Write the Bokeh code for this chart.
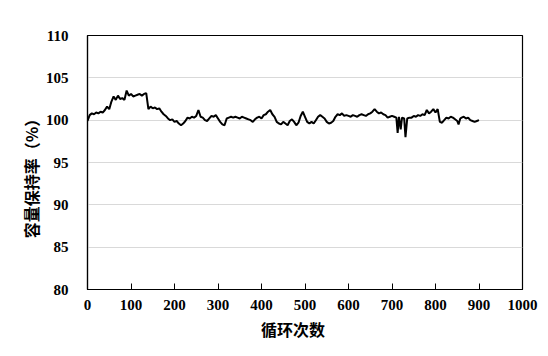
from bokeh.plotting import figure
from bokeh.models import Range1d, FixedTicker
from bokeh.embed import file_html
from bokeh.resources import INLINE

cycles = [0, 5, 10, 15, 20, 25, 30, 35, 40, 45, 50, 55, 60, 65, 70, 75, 80, 85, 90, 95,
          100, 105, 110, 115, 120, 125, 130, 135, 140, 145, 150, 155, 160, 165, 170, 175, 180, 185, 190, 195,
          200, 205, 210, 215, 220, 225, 230, 235, 240, 245, 250, 255, 260, 265, 270, 275, 280, 285, 290, 295,
          300, 305, 310, 315, 320, 325, 330, 335, 340, 345, 350, 355, 360, 365, 370, 375, 380, 385, 390, 395,
          400, 405, 410, 415, 420, 425, 430, 435, 440, 445, 450, 455, 460, 465, 470, 475, 480, 485, 490, 495,
          500, 505, 510, 515, 520, 525, 530, 535, 540, 545, 550, 555, 560, 565, 570, 575, 580, 585, 590, 595,
          600, 605, 610, 615, 620, 625, 630, 635, 640, 645, 650, 655, 660, 665, 670, 675, 680, 685, 690, 695,
          700, 705, 710, 713, 716, 720, 723, 728, 731, 735, 740, 745, 750, 755, 760, 765, 770, 775, 780, 785,
          790, 795, 800, 805, 810, 815, 820, 825, 830, 835, 840, 845, 850, 853, 857, 860, 865, 870, 875, 880,
          885, 890, 895, 900]
retention = [99.9, 100.6, 100.8, 100.7, 100.9, 100.8, 101.0, 100.9, 101.2, 101.6, 101.3, 102.2, 102.8, 102.4, 102.9, 102.5, 102.6, 102.4, 103.5, 102.9,
             103.1, 102.8, 102.9, 103.0, 103.1, 102.9, 103.1, 103.2, 101.3, 101.6, 101.4, 101.5, 101.3, 101.4, 101.0, 100.7, 100.5, 100.2, 100.0, 100.1,
             99.8, 99.9, 99.6, 99.4, 99.6, 99.9, 100.3, 100.2, 100.4, 100.3, 100.5, 101.2, 100.4, 100.3, 100.0, 99.9, 100.2, 100.5, 100.4, 100.6,
             100.2, 99.8, 99.5, 99.4, 100.2, 100.3, 100.4, 100.3, 100.4, 100.3, 100.2, 100.4, 100.3, 100.2, 100.1, 100.0, 99.8, 100.1, 100.3, 100.4,
             100.2, 100.6, 100.7, 101.0, 101.2, 100.7, 100.4, 99.8, 99.6, 99.5, 99.8, 99.6, 99.4, 99.9, 100.1, 99.8, 99.4, 99.7, 100.5, 101.0,
             100.4, 99.8, 99.6, 99.8, 99.6, 100.0, 100.4, 100.6, 100.4, 100.2, 99.8, 99.6, 99.7, 99.9, 100.4, 100.7, 100.6, 100.8, 100.5, 100.6,
             100.5, 100.4, 100.6, 100.5, 100.4, 100.6, 100.7, 100.6, 100.5, 100.7, 100.8, 101.0, 101.3, 101.0, 100.8, 100.9, 100.7, 100.6, 100.3, 100.4,
             100.5, 100.4, 100.3, 98.5, 100.4, 98.9, 100.3, 100.2, 98.0, 100.2, 100.3, 100.3, 100.5, 100.4, 100.6, 100.5, 100.7, 100.6, 101.2, 100.8,
             101.0, 101.3, 100.9, 101.3, 99.8, 99.7, 100.0, 100.3, 100.2, 100.4, 100.3, 100.1, 99.9, 99.5, 100.2, 100.3, 100.4, 100.2, 100.3, 100.0,
             99.9, 99.8, 99.9, 100.0]

x_ticks = [0, 100, 200, 300, 400, 500, 600, 700, 800, 900, 1000]
y_ticks = [80, 85, 90, 95, 100, 105, 110]
x_title = "循环次数"
y_title = "容量保持率（%）"

p = figure(width=548, height=356, output_backend="svg", toolbar_location=None,
           x_range=Range1d(0, 1000), y_range=Range1d(80, 110),
           min_border_left=87, min_border_right=26, min_border_top=35, min_border_bottom=67)
p.background_fill_color = "white"
p.border_fill_color = "white"
p.outline_line_color = "black"
p.outline_line_width = 1.2

p.line(cycles, retention, line_color="black", line_width=2)

p.xaxis.ticker = FixedTicker(ticks=x_ticks)
p.yaxis.ticker = FixedTicker(ticks=y_ticks)
p.xgrid.visible = False
p.ygrid.grid_line_color = "#d9d9d9"
p.ygrid.grid_line_width = 1

for ax in (p.xaxis, p.yaxis):
    ax.axis_line_color = "black"
    ax.axis_line_width = 1.2
    ax.major_label_text_font = "Liberation Serif"
    ax.major_label_text_font_style = "bold"
    ax.major_label_text_font_size = "15px"
    ax.major_label_text_color = "black"
    ax.axis_label_text_font = "Noto Sans CJK SC"
    ax.axis_label_text_font_style = "bold"
    ax.axis_label_text_font_size = "16px"
    ax.axis_label_text_color = "black"
    ax.minor_tick_line_color = None

p.xaxis.major_tick_in = 6
p.xaxis.major_tick_out = 0
p.xaxis.major_tick_line_color = "black"
p.xaxis.major_label_standoff = 10
p.xaxis.axis_label = x_title + "\u2003\u2002"
p.xaxis.axis_label_standoff = 4

p.yaxis.major_tick_line_color = None
p.yaxis.major_label_standoff = 13
p.yaxis.axis_label = y_title + "\u2003\u2002"
p.yaxis.axis_label_standoff = 0

open("out.html", "w").write(file_html(p, INLINE))
